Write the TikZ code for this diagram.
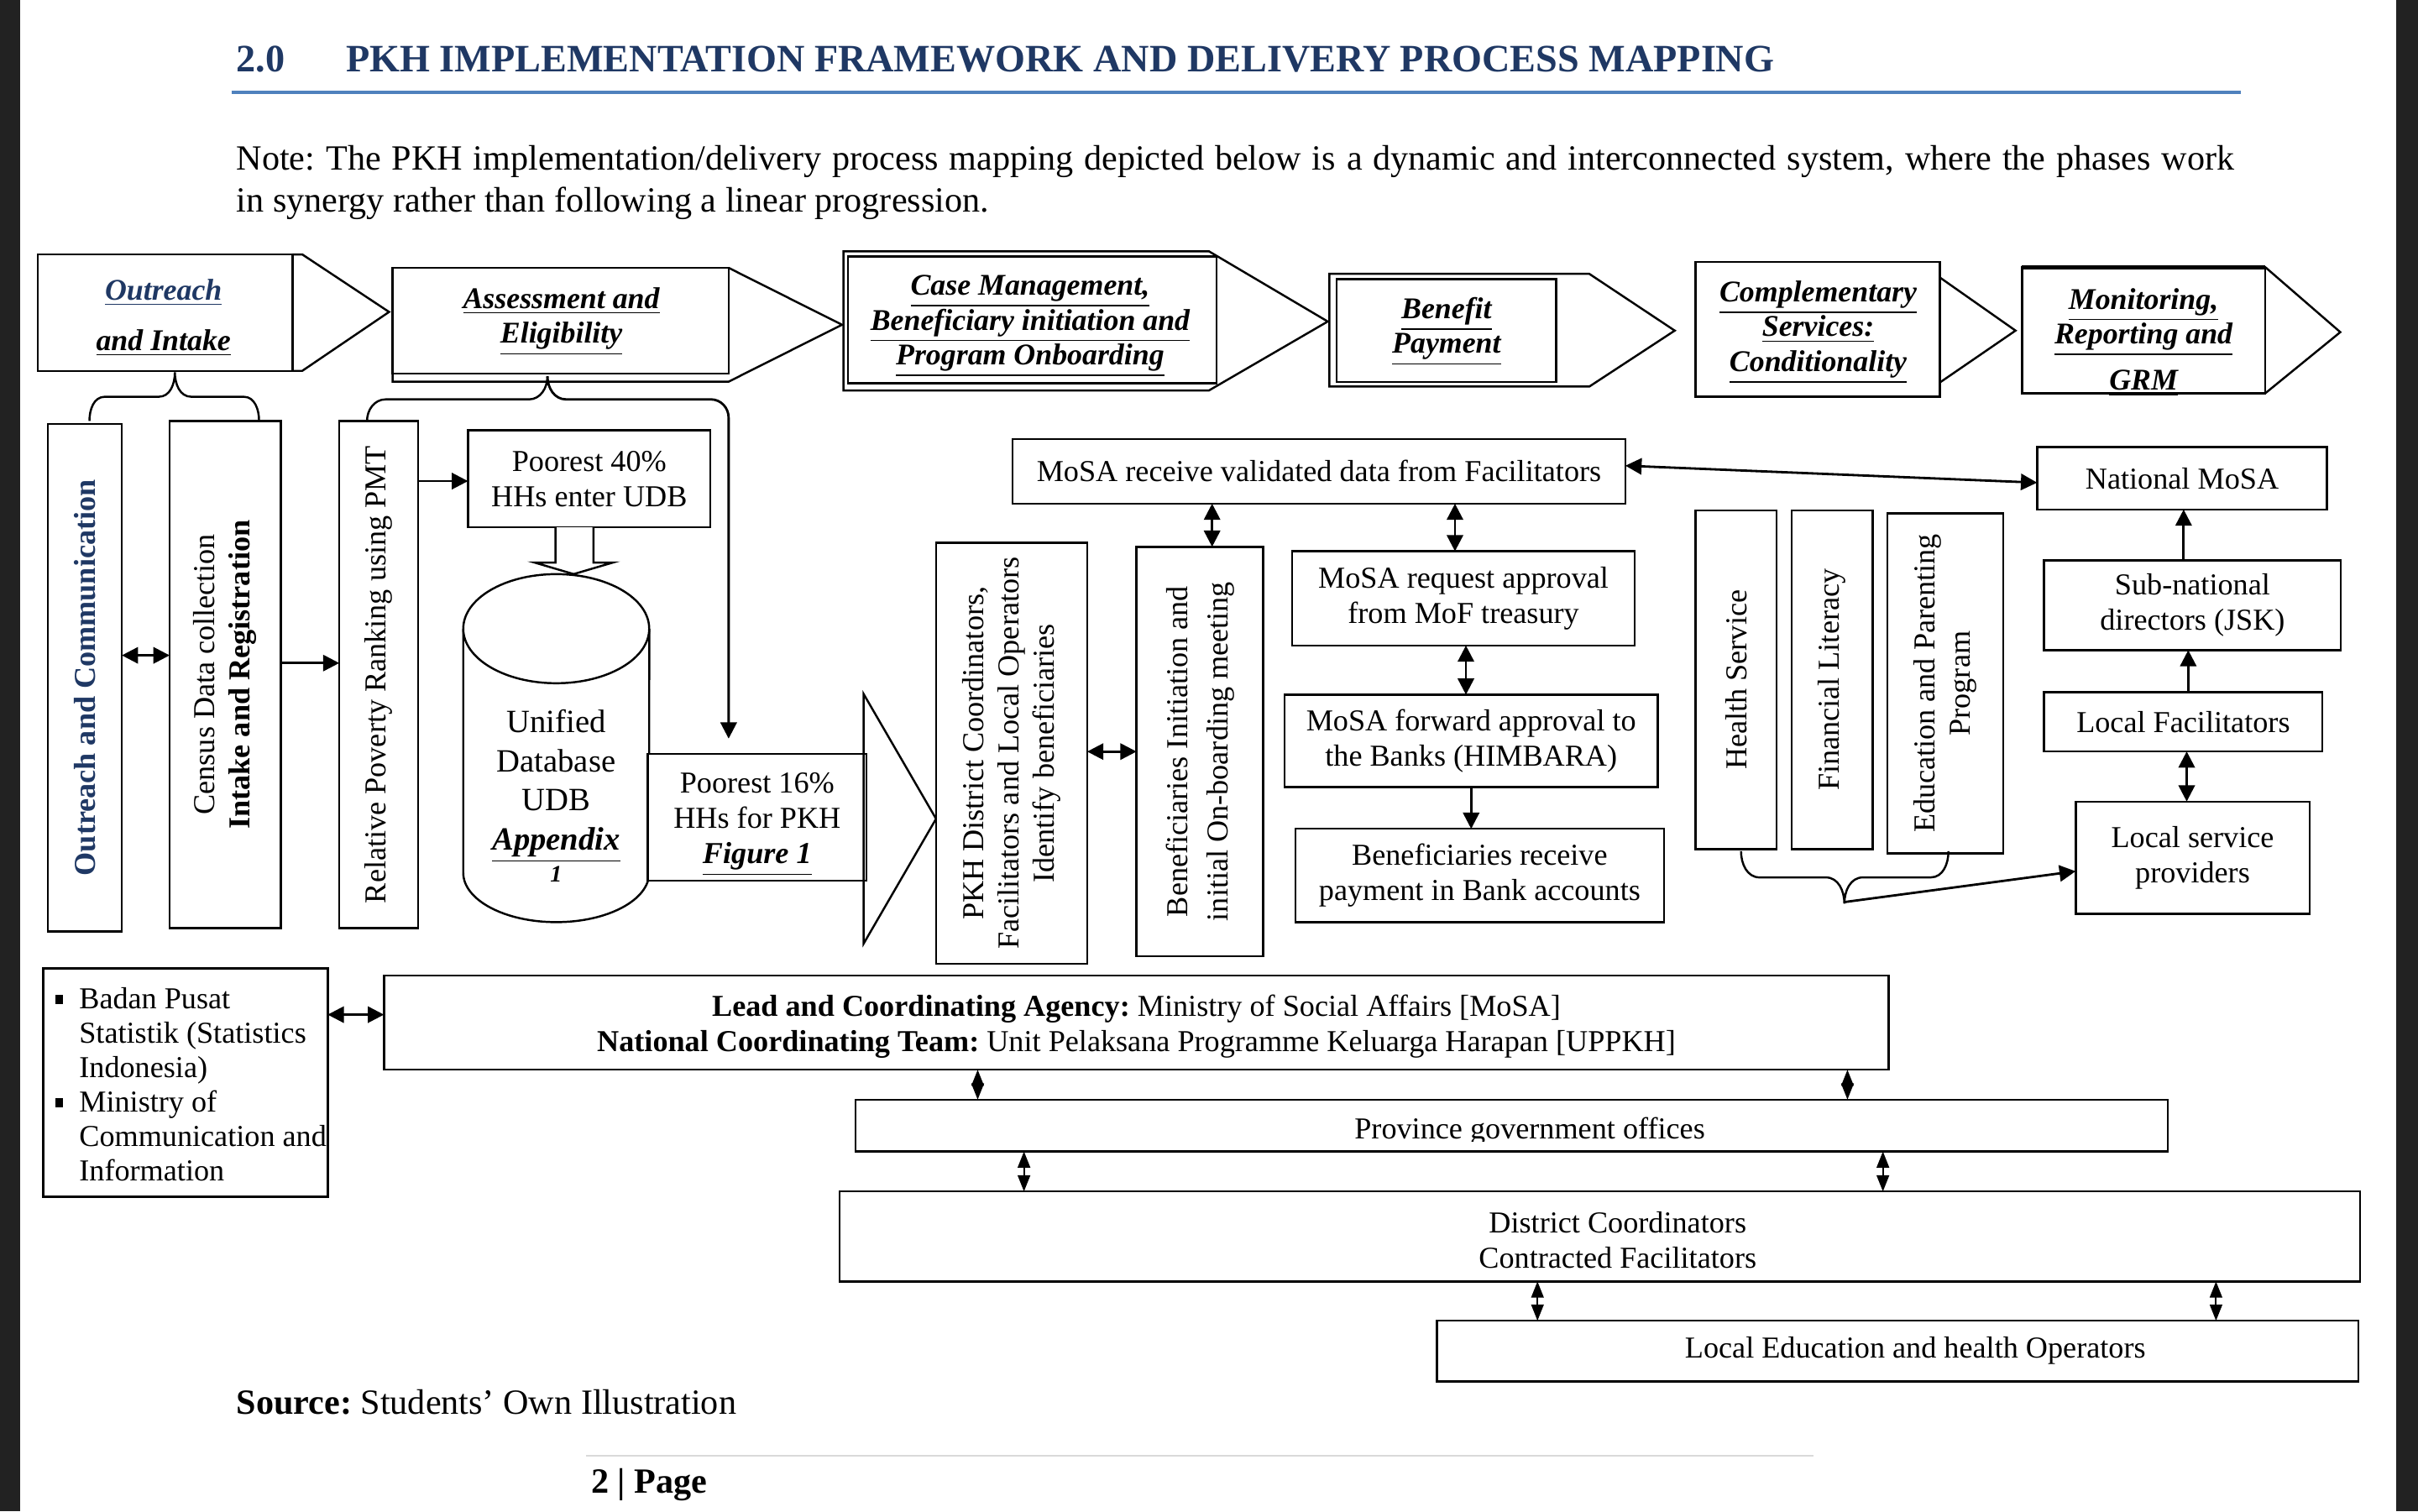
\documentclass[tikz,border=0pt]{standalone}
\usepackage{fontspec}
\setmainfont{Liberation Serif}
\usetikzlibrary{arrows.meta}
\definecolor{navy}{RGB}{31,56,100}
\definecolor{rulecol}{RGB}{79,129,189}
\definecolor{pagebg}{RGB}{34,34,34}
\newcommand\Bx[7][]{\node[box, minimum width={(#5-#3)*0.0183673cm}, minimum height={(#6-#4)*0.0183673cm}, #1] (#2) at ({(#3+#5)/2},{(#4+#6)/2}) {#7};}
\frenchspacing
\begin{document}
\begin{tikzpicture}[x=0.0183673cm, y=-0.0183673cm,
  box/.style={draw, line width=0.7pt, fill=white, inner sep=0pt, outer sep=0pt, font=\fontsize{10.3}{12}\selectfont, align=center},
  ln/.style={line width=0.7pt},
  hd/.style={font=\fontsize{10.2}{11.8}\selectfont\bfseries\itshape, align=center, inner sep=0pt},
  txt/.style={font=\fontsize{10.3}{12}\selectfont, align=center, inner sep=0pt},
  arr/.style={line width=0.8pt, -{Triangle[length=5.5pt,width=5.5pt]}},
  darr/.style={line width=0.8pt, {Triangle[length=5.5pt,width=5.5pt]}-{Triangle[length=5.5pt,width=5.5pt]}},
  sarr/.style={line width=0.6pt, {Triangle[length=5.5pt,width=4.2pt]}-{Triangle[length=5.5pt,width=4.2pt]}}]
\useasboundingbox (0,0) rectangle (1568,980);
\fill[pagebg] (0,0) rectangle (1568,980);
\fill[white] (13.3,0) rectangle (1554,980);

% title
\node[anchor=base west, inner sep=0pt, text=navy, font=\fontsize{13.15}{15}\selectfont\bfseries] (secno) at (153,46.3) {2.0};
\node[anchor=base west, inner sep=0pt, text=navy, font=\fontsize{13.15}{15}\selectfont\bfseries] (title) at (224,46.3) {PKH IMPLEMENTATION FRAMEWORK AND DELIVERY PROCESS MAPPING};
\draw[rulecol, line width=1.2pt] (150,60) -- (1453,60);

% note
\node[anchor=base west, inner sep=0pt, font=\fontsize{12}{14}\selectfont] (note1) at (153,110.5) {\makebox[23.80cm][s]{Note: The PKH implementation/delivery process mapping depicted below is a dynamic and interconnected system, where the phases work}};
\node[anchor=base west, inner sep=0pt, font=\fontsize{12}{14}\selectfont] (note2) at (153,137.5) {in synergy rather than following a linear progression.};

% headers
\Bx{h1}{24.5}{165}{189.7}{240.5}{}
\draw[ln] (h1.north east) -- (196,165) -- (252.3,202.3) -- (196,240.5) -- (h1.south east);
\node[hd] (h1t) at (106,206) {\textcolor{navy}{\underline{Outreach}}\\[5.3pt]\underline{and Intake}};

\Bx{h2}{254.6}{173.7}{472.5}{242.4}{}
\draw[ln] (h2.north east) -- (546,210.6) -- (472.5,247.5) -- (254.6,247.5) -- (h2.south west);
\node[hd] (h2t) at (364,208.5) {\underline{Assessment and}\\\underline{Eligibility}};

\draw[ln, fill=white] (547,163) -- (784,163) -- (861,208.5) -- (784,253.2) -- (547,253.2) -- cycle;
\Bx{h3}{550}{166.4}{789}{248.6}{}
\node[hd] (h3t) at (668,211.5) {\underline{Case Management,}\\\underline{Beneficiary initiation and}\\\underline{Program Onboarding}};

\draw[ln, fill=white] (862,177.6) -- (1030.6,177.6) -- (1086,214.4) -- (1030.6,250.7) -- (862,250.7) -- cycle;
\Bx{h4}{866.7}{181}{1009}{247.8}{}
\node[hd] (h4t) at (938,215) {\underline{Benefit}\\\underline{Payment}};

\Bx{h5}{1099.5}{170}{1258}{257.2}{}
\draw[ln] (1258,180) -- (1307,214.4) -- (1258,248);
\node[hd] (h5t) at (1179,215.5) {\underline{Complementary}\\\underline{Services:}\\\underline{Conditionality}};

\Bx{h6}{1311.2}{173.3}{1469}{255}{}
\draw[ln] (h6.north east) -- (1517.6,215.4) -- (h6.south east);
\draw[line width=1.3pt] (h6.north west) -- (h6.north east);
\node[hd] (h6t) at (1390,222) {\underline{Monitoring,}\\\underline{Reporting and}\\[4pt]\underline{GRM}};

% brace 1
\draw[ln] (58,273) to[out=90,in=180] (68,257.3) -- (103,257.3) to[out=0,in=270] (113.4,241.4) to[out=270,in=180] (124,257.3) -- (158,257.3) to[out=0,in=90] (168,273);

% column boxes
\Bx{oc}{31}{275}{79}{604}{\rotatebox{90}{\bfseries\color{navy}Outreach and Communication}}
\Bx{cen}{110}{273}{182}{602}{\rotatebox{90}{\begin{tabular}{@{}c@{}}Census Data collection\\\textbf{Intake and Registration}\end{tabular}}}
\Bx{rpr}{220}{273}{271}{602}{\rotatebox{90}{Relative Poverty Ranking using PMT}}
\Bx{p40}{303.5}{279}{460.7}{342}{Poorest 40\%\\HHs enter UDB}

% brace 2
\draw[ln] (238,273) to[out=90,in=180] (250,259) -- (343,259) to[out=0,in=270] (355,244);
\coordinate (a16) at (472.5,479);
\draw[arr] (355,244) to[out=270,in=180] (367,259) -- (461,259) to[out=0,in=90] (472.5,271) -- (a16);

% cylinder
\fill[white] (300.4,407.7) -- (300.4,566) arc[start angle=180,end angle=360,x radius=1.1076cm,y radius=0.588cm] -- (421,407.7) -- cycle;
\draw[ln] (300.4,407.7) -- (300.4,566) arc[start angle=180,end angle=360,x radius=1.1076cm,y radius=0.588cm] -- (421,407.7);
\draw[ln, fill=white] (360.7,407.7) ellipse[x radius=1.1076cm, y radius=0.650cm];
\draw[ln, fill=white] (360.2,342) -- (360.2,364.8) -- (346.6,364.8) -- (372,372.3) -- (397.5,364.8) -- (384.8,364.8) -- (384.8,342);
\node[font=\fontsize{11}{13.3}\selectfont, align=center, inner sep=0pt] (udb) at (360.7,516) {Unified\\Database\\UDB\\\textbf{\textit{\underline{Appendix}}}\\[-2.5pt]{\fontsize{8}{9}\selectfont\textbf{\textit{1}}}};

\Bx{p16}{420}{489}{562}{571}{}
\node[txt] (p16t) at (491,534.5) {Poorest 16\%\\HHs for PKH\\\textbf{\textit{\underline{Figure 1}}}};
\draw[ln] (560,450) -- (607,531) -- (560,612) -- cycle;

\Bx{pkh}{607}{352}{705}{625}{\rotatebox{90}{\begin{tabular}{@{}c@{}}PKH District Coordinators,\\Facilitators and Local Operators\\Identify beneficiaries\end{tabular}}}
\Bx{bii}{737}{354.6}{819}{620}{\rotatebox{90}{\fontsize{10.3}{13.5}\selectfont\begin{tabular}{@{}c@{}}Beneficiaries Initiation and\\initial On-boarding meeting\end{tabular}}}
\Bx{mrv}{656.6}{284.6}{1054}{326.6}{MoSA receive validated data from Facilitators}
\Bx{mra}{838}{357.5}{1060}{418.6}{MoSA request approval\\from MoF treasury}
\Bx{mfa}{833}{450.5}{1075}{510.4}{MoSA forward approval to\\the Banks (HIMBARA)}
\Bx{brp}{840}{537.5}{1079}{598}{Beneficiaries receive\\payment in Bank accounts}

\Bx{hs}{1099.5}{331}{1152}{550.8}{\rotatebox{90}{Health Service}}
\Bx{fl}{1161.8}{331}{1214.4}{550.8}{\rotatebox{90}{Financial Literacy}}
\Bx{ep}{1224}{333}{1299}{553.4}{\rotatebox{90}{\begin{tabular}{@{}c@{}}Education and Parenting\\Program\end{tabular}}}

\Bx{nm}{1321}{290}{1509}{330.4}{National MoSA}
\Bx{sn}{1325.5}{363.4}{1518}{421.6}{Sub-national\\directors (JSK)}
\Bx{lf}{1325.5}{449}{1506}{487.3}{Local Facilitators}
\Bx{lsp}{1346}{519.8}{1497.6}{592.6}{Local service\\providers}

% brace 3
\draw[ln] (1129,552) to[out=270,in=180] (1141,569) -- (1184,569) to[out=0,in=90] (1196,586) to[out=90,in=180] (1208,569) -- (1252,569) to[out=0,in=270] (1263.5,552);
\coordinate (b3) at (1196,585);

% arrows
\draw[darr] (oc.east |- 0,425) -- (cen.west |- 0,425);
\draw[arr] (cen.east |- 0,430) -- (rpr.west |- 0,430);
\draw[arr] (rpr.east |- 0,312) -- (p40.west |- 0,312);
\draw[darr] (pkh.east |- 0,487.4) -- (bii.west |- 0,487.4);
\draw[darr] (mrv.south -| 786,0) -- (bii.north -| 786,0);
\draw[darr] (mrv.south -| 943.5,0) -- (mra.north -| 943.5,0);
\draw[darr] (mra.south -| 950.6,0) -- (mfa.north -| 950.6,0);
\draw[arr] (mfa.south -| 954,0) -- (brp.north -| 954,0);
\draw[darr] (mrv.east |- 0,302) -- (nm.west |- 0,313);
\draw[arr] (sn.north -| 1416,0) -- (nm.south -| 1416,0);
\draw[arr] (lf.north -| 1419,0) -- (sn.south -| 1419,0);
\draw[darr] (lf.south -| 1418,0) -- (lsp.north -| 1418,0);
\draw[arr] (b3) -- (lsp.west |- 0,565);

% bottom section
\Bx{bul}{28}{628}{212.5}{776}{}
\node[anchor=west, inner sep=0pt, font=\fontsize{10.3}{11.7}\selectfont] (bult) at (35.5,705.4) {\begin{tabular}{@{}l@{\hspace{5.5pt}}l@{}}\rule[1.5pt]{2.6pt}{3.2pt} & Badan Pusat\\ & Statistik (Statistics\\ & Indonesia)\\\rule[1.5pt]{2.6pt}{3.2pt} & Ministry of\\ & Communication and\\ & Information\end{tabular}};
\Bx{lead}{249}{632.5}{1224.7}{693.7}{}
\node[txt] (leadt) at (736.9,665.5) {\textbf{Lead and Coordinating Agency:} Ministry of Social Affairs [MoSA]\\\textbf{National Coordinating Team:} Unit Pelaksana Programme Keluarga Harapan [UPPKH]};
\Bx{prov}{554.7}{713.1}{1405.6}{746.7}{}
\begin{scope}
\clip (554.7,713.1) rectangle (1405.6,740);
\node[txt, anchor=base] (provt) at (992,738.7) {Province government offices};
\end{scope}
\Bx{dist}{544.3}{772.7}{1530.5}{831}{}
\node[txt] (distt) at (1049,804) {District Coordinators\\Contracted Facilitators};
\Bx{led}{931.8}{856.5}{1529.4}{895.9}{}
\node[txt] (ledt) at (1242,876) {Local Education and health Operators};

\draw[darr] (bul.east |- 0,658) -- (lead.west |- 0,658);
\draw[sarr] (lead.south -| 634,0) -- (prov.north -| 634,0);
\draw[sarr] (lead.south -| 1198,0) -- (prov.north -| 1198,0);
\draw[sarr] (prov.south -| 664,0) -- (dist.north -| 664,0);
\draw[sarr] (prov.south -| 1221,0) -- (dist.north -| 1221,0);
\draw[sarr] (dist.south -| 997,0) -- (led.north -| 997,0);
\draw[sarr] (dist.south -| 1437,0) -- (led.north -| 1437,0);

% footer
\node[anchor=base west, inner sep=0pt, font=\fontsize{12}{14}\selectfont] (src) at (153,917) {\textbf{Source:} Students’ Own Illustration};
\draw[black!15, line width=0.6pt] (380,944) -- (1176,944);
\node[anchor=base west, inner sep=0pt, font=\fontsize{12}{14}\selectfont\bfseries] (pg) at (383,968.4) {2 | Page};
\end{tikzpicture}
\end{document}
